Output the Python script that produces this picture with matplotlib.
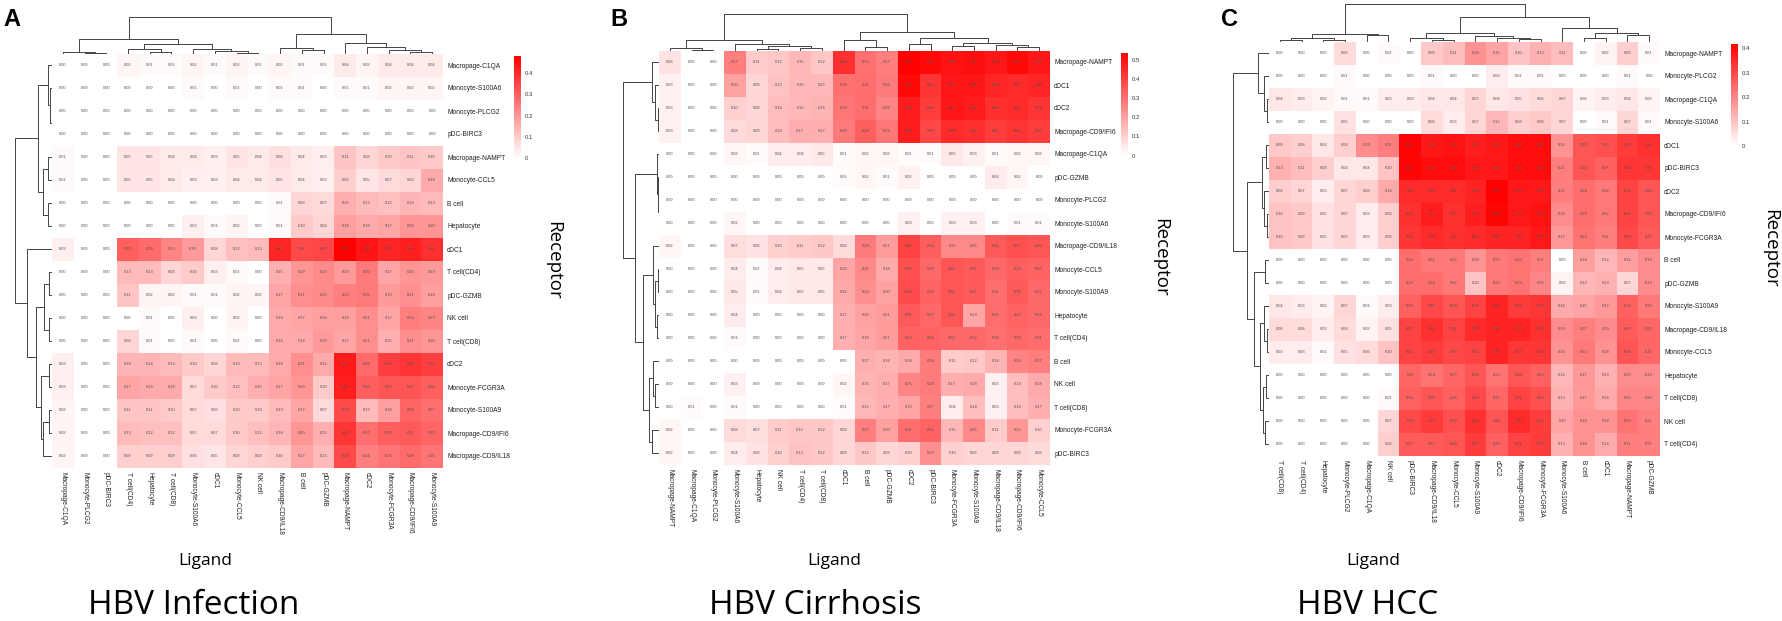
import numpy as np
import matplotlib.pyplot as plt
from matplotlib.colors import LinearSegmentedColormap

plt.rcParams['font.family'] = ['Liberation Sans', 'DejaVu Sans']

# ---------------- panel A : HBV Infection ----------------
a_rows = ['Macropage-C1QA', 'Monocyte-S100A6', 'Monocyte-PLCG2', 'pDC-BIRC3',
          'Macropage-NAMPT', 'Monocyte-CCL5', 'B cell', 'Hepatocyte', 'cDC1',
          'T cell(CD4)', 'pDC-GZMB', 'NK cell', 'T cell(CD8)', 'cDC2',
          'Monocyte-FCGR3A', 'Monocyte-S100A9', 'Macropage-CD9/IFI6',
          'Macropage-CD9/IL18']
a_cols = ['Macropage-C1QA', 'Monocyte-PLCG2', 'pDC-BIRC3', 'T cell(CD4)',
          'Hepatocyte', 'T cell(CD8)', 'Monocyte-S100A6', 'cDC1',
          'Monocyte-CCL5', 'NK cell', 'Macropage-CD9/IL18', 'B cell',
          'pDC-GZMB', 'Macropage-NAMPT', 'cDC2', 'Monocyte-FCGR3A',
          'Macropage-CD9/IFI6', 'Monocyte-S100A9']
a_vals = [
    [0.00, 0.00, 0.00, 0.02, 0.01, 0.01, 0.02, 0.01, 0.02, 0.01, 0.02, 0.01, 0.01, 0.04, 0.02, 0.04, 0.04, 0.04],
    [0.00, 0.00, 0.00, 0.00, 0.00, 0.00, 0.01, 0.00, 0.01, 0.00, 0.01, 0.01, 0.00, 0.01, 0.01, 0.02, 0.02, 0.02],
    [0.00, 0.00, 0.00, 0.00, 0.00, 0.00, 0.00, 0.00, 0.00, 0.00, 0.00, 0.00, 0.00, 0.00, 0.00, 0.00, 0.00, 0.00],
    [0.00, 0.00, 0.00, 0.00, 0.00, 0.00, 0.00, 0.00, 0.00, 0.00, 0.00, 0.00, 0.00, 0.00, 0.00, 0.00, 0.00, 0.00],
    [0.01, 0.00, 0.00, 0.05, 0.05, 0.04, 0.04, 0.03, 0.05, 0.04, 0.06, 0.04, 0.03, 0.11, 0.08, 0.10, 0.11, 0.10],
    [0.01, 0.00, 0.00, 0.05, 0.05, 0.04, 0.03, 0.03, 0.04, 0.04, 0.05, 0.04, 0.03, 0.09, 0.05, 0.07, 0.08, 0.16],
    [0.00, 0.00, 0.00, 0.00, 0.00, 0.00, 0.00, 0.00, 0.00, 0.00, 0.01, 0.08, 0.07, 0.15, 0.13, 0.12, 0.14, 0.13],
    [0.00, 0.00, 0.00, 0.00, 0.00, 0.00, 0.03, 0.01, 0.02, 0.00, 0.01, 0.10, 0.08, 0.18, 0.16, 0.17, 0.20, 0.20],
    [0.03, 0.00, 0.00, 0.30, 0.28, 0.23, 0.19, 0.08, 0.12, 0.13, 0.41, 0.34, 0.35, 0.48, 0.44, 0.41, 0.42, 0.39],
    [0.00, 0.00, 0.00, 0.13, 0.13, 0.08, 0.10, 0.03, 0.01, 0.00, 0.15, 0.20, 0.22, 0.19, 0.25, 0.17, 0.20, 0.19],
    [0.00, 0.00, 0.00, 0.11, 0.02, 0.02, 0.01, 0.01, 0.02, 0.02, 0.17, 0.21, 0.22, 0.24, 0.25, 0.19, 0.21, 0.18],
    [0.00, 0.00, 0.00, 0.00, 0.01, 0.00, 0.03, 0.00, 0.02, 0.00, 0.16, 0.17, 0.18, 0.18, 0.21, 0.17, 0.24, 0.23],
    [0.00, 0.00, 0.00, 0.08, 0.01, 0.00, 0.01, 0.00, 0.01, 0.00, 0.16, 0.16, 0.19, 0.17, 0.21, 0.15, 0.21, 0.20],
    [0.03, 0.00, 0.00, 0.14, 0.14, 0.13, 0.10, 0.08, 0.13, 0.13, 0.16, 0.21, 0.16, 0.43, 0.28, 0.36, 0.38, 0.36],
    [0.03, 0.00, 0.00, 0.17, 0.16, 0.16, 0.07, 0.10, 0.12, 0.15, 0.17, 0.20, 0.10, 0.42, 0.30, 0.32, 0.32, 0.30],
    [0.02, 0.00, 0.00, 0.11, 0.11, 0.10, 0.07, 0.06, 0.10, 0.10, 0.13, 0.17, 0.07, 0.34, 0.13, 0.18, 0.29, 0.27],
    [0.02, 0.00, 0.00, 0.13, 0.12, 0.12, 0.07, 0.07, 0.10, 0.12, 0.14, 0.20, 0.15, 0.38, 0.27, 0.30, 0.31, 0.29],
    [0.02, 0.00, 0.00, 0.09, 0.09, 0.09, 0.06, 0.05, 0.08, 0.09, 0.10, 0.17, 0.13, 0.34, 0.24, 0.26, 0.28, 0.26],
]
# dendrograms: [merge height, left, right], leaves = display index
a_col_tree = [37, [15, [2, 0, [0.3, 1, 2]], [10, [5, 3, [2, 4, 5]], [5, 6, [2.5, 7, [1, 8, 9]]]]],
              [20, [6, 10, [4, 11, 12]], [11, 13, [7, 14, [3.5, 15, [2, 16, 17]]]]]]
a_row_tree = [37, [14, [4, 0, [2, 1, [0.3, 2, 3]]], [9, [4, 4, 5], [4, 6, 7]]],
              [25, 8, [16, [8, [3, 9, 10], [3, 11, 12]], [11, [3, 13, 14], [9, [3, 15, 16], 17]]]]]

# ---------------- panel B : HBV Cirrhosis ----------------
b_rows = ['Macropage-NAMPT', 'cDC1', 'cDC2', 'Macropage-CD9/IFI6', 'Macropage-C1QA',
          'pDC-GZMB', 'Monocyte-PLCG2', 'Monocyte-S100A6', 'Macropage-CD9/IL18',
          'Monocyte-CCL5', 'Monocyte-S100A9', 'Hepatocyte', 'T cell(CD4)', 'B cell',
          'NK cell', 'T cell(CD8)', 'Monocyte-FCGR3A', 'pDC-BIRC3']
b_cols = ['Macropage-NAMPT', 'Macropage-C1QA', 'Monocyte-PLCG2', 'Monocyte-S100A6',
          'Hepatocyte', 'NK cell', 'T cell(CD4)', 'T cell(CD8)', 'cDC1', 'B cell',
          'pDC-GZMB', 'cDC2', 'pDC-BIRC3', 'Monocyte-FCGR3A', 'Monocyte-S100A9',
          'Macropage-CD9/IL18', 'Macropage-CD9/IFI6', 'Monocyte-CCL5']
b_vals = [
    [0.06, 0.00, 0.00, 0.27, 0.11, 0.12, 0.15, 0.12, 0.44, 0.30, 0.27, 0.54, 0.52, 0.50, 0.51, 0.49, 0.52, 0.49],
    [0.03, 0.00, 0.00, 0.20, 0.09, 0.13, 0.15, 0.15, 0.30, 0.31, 0.28, 0.52, 0.43, 0.49, 0.49, 0.46, 0.45, 0.46],
    [0.03, 0.00, 0.00, 0.10, 0.09, 0.14, 0.15, 0.16, 0.29, 0.31, 0.26, 0.48, 0.41, 0.49, 0.48, 0.44, 0.45, 0.43],
    [0.03, 0.00, 0.00, 0.08, 0.09, 0.14, 0.17, 0.17, 0.28, 0.34, 0.29, 0.48, 0.39, 0.45, 0.44, 0.41, 0.43, 0.41],
    [0.00, 0.00, 0.00, 0.02, 0.01, 0.04, 0.04, 0.05, 0.01, 0.02, 0.02, 0.01, 0.01, 0.05, 0.03, 0.01, 0.02, 0.02],
    [0.00, 0.00, 0.00, 0.00, 0.00, 0.00, 0.00, 0.00, 0.01, 0.02, 0.01, 0.03, 0.00, 0.00, 0.00, 0.04, 0.02, 0.00],
    [0.00, 0.00, 0.00, 0.00, 0.00, 0.00, 0.00, 0.00, 0.00, 0.00, 0.00, 0.00, 0.00, 0.00, 0.00, 0.00, 0.00, 0.00],
    [0.00, 0.00, 0.00, 0.02, 0.00, 0.00, 0.00, 0.00, 0.00, 0.00, 0.00, 0.03, 0.00, 0.03, 0.03, 0.00, 0.01, 0.01],
    [0.02, 0.00, 0.00, 0.07, 0.06, 0.10, 0.11, 0.12, 0.08, 0.28, 0.21, 0.40, 0.34, 0.25, 0.25, 0.35, 0.37, 0.36],
    [0.00, 0.00, 0.00, 0.04, 0.01, 0.04, 0.05, 0.05, 0.19, 0.25, 0.18, 0.37, 0.32, 0.36, 0.35, 0.32, 0.34, 0.33],
    [0.00, 0.00, 0.00, 0.05, 0.01, 0.04, 0.05, 0.05, 0.18, 0.24, 0.20, 0.38, 0.33, 0.36, 0.35, 0.31, 0.35, 0.32],
    [0.00, 0.00, 0.00, 0.04, 0.00, 0.00, 0.00, 0.00, 0.17, 0.20, 0.21, 0.35, 0.32, 0.36, 0.19, 0.31, 0.33, 0.32],
    [0.00, 0.00, 0.00, 0.01, 0.00, 0.00, 0.00, 0.00, 0.17, 0.19, 0.21, 0.33, 0.33, 0.32, 0.32, 0.30, 0.32, 0.31],
    [0.00, 0.00, 0.00, 0.00, 0.00, 0.00, 0.00, 0.00, 0.00, 0.17, 0.16, 0.18, 0.28, 0.11, 0.12, 0.16, 0.26, 0.27],
    [0.00, 0.00, 0.00, 0.03, 0.00, 0.00, 0.00, 0.00, 0.02, 0.16, 0.17, 0.26, 0.28, 0.17, 0.18, 0.03, 0.14, 0.18],
    [0.00, 0.01, 0.00, 0.01, 0.00, 0.00, 0.00, 0.00, 0.01, 0.15, 0.17, 0.19, 0.27, 0.04, 0.14, 0.03, 0.14, 0.17],
    [0.02, 0.00, 0.00, 0.08, 0.07, 0.11, 0.12, 0.12, 0.09, 0.27, 0.20, 0.31, 0.33, 0.15, 0.25, 0.11, 0.22, 0.10],
    [0.02, 0.00, 0.00, 0.04, 0.06, 0.10, 0.13, 0.12, 0.09, 0.12, 0.09, 0.10, 0.24, 0.10, 0.09, 0.09, 0.09, 0.08],
]
b_col_tree = [36.5, [10.5, [2.5, 0, [0.3, 1, 2]], [7, 3, [5, [2, 4, 5], [3, 6, 7]]]],
              [19, [10.5, 8, [4, 9, 10]], [12.5, [6.5, 11, 12], [8, [5, 13, 14], [6, 15, [3.5, 16, 17]]]]]]
b_row_tree = [36, [7, 0, [4, 1, [1, 2, 3]]],
              [24, [2, 4, [1.5, 5, [0.5, 6, 7]]],
               [16, [6, 8, [4, [1, 9, 10], [2, 11, 12]]], [10, [6, 13, [4, 14, 15]], [7, 16, 17]]]]]

# ---------------- panel C : HBV HCC ----------------
c_rows = ['Macropage-NAMPT', 'Monocyte-PLCG2', 'Macropage-C1QA', 'Monocyte-S100A6',
          'cDC1', 'pDC-BIRC3', 'cDC2', 'Macropage-CD9/IFI6', 'Monocyte-FCGR3A',
          'B cell', 'pDC-GZMB', 'Monocyte-S100A9', 'Macropage-CD9/IL18',
          'Monocyte-CCL5', 'Hepatocyte', 'T cell(CD8)', 'NK cell', 'T cell(CD4)']
c_cols = ['T cell(CD8)', 'T cell(CD4)', 'Hepatocyte', 'Monocyte-PLCG2',
          'Macropage-C1QA', 'NK cell', 'pDC-BIRC3', 'Macropage-CD9/IL18',
          'Monocyte-CCL5', 'Monocyte-S100A9', 'cDC2', 'Macropage-CD9/IFI6',
          'Monocyte-FCGR3A', 'Monocyte-S100A6', 'B cell', 'cDC1',
          'Macropage-NAMPT', 'pDC-GZMB']
c_vals = [
    [0.00, 0.00, 0.00, 0.06, 0.00, 0.01, 0.00, 0.09, 0.11, 0.18, 0.15, 0.10, 0.13, 0.11, 0.00, 0.02, 0.08, 0.01],
    [0.00, 0.00, 0.00, 0.01, 0.00, 0.00, 0.00, 0.01, 0.00, 0.00, 0.03, 0.01, 0.01, 0.00, 0.00, 0.00, 0.01, 0.00],
    [0.04, 0.03, 0.02, 0.01, 0.01, 0.03, 0.03, 0.04, 0.04, 0.07, 0.04, 0.05, 0.06, 0.07, 0.02, 0.03, 0.04, 0.02],
    [0.00, 0.00, 0.00, 0.05, 0.00, 0.00, 0.00, 0.06, 0.03, 0.07, 0.12, 0.08, 0.09, 0.07, 0.00, 0.01, 0.07, 0.01],
    [0.09, 0.08, 0.04, 0.08, 0.19, 0.21, 0.41, 0.38, 0.39, 0.37, 0.38, 0.40, 0.40, 0.18, 0.28, 0.29, 0.32, 0.34],
    [0.13, 0.11, 0.08, 0.04, 0.04, 0.10, 0.41, 0.40, 0.40, 0.38, 0.38, 0.40, 0.40, 0.21, 0.28, 0.26, 0.33, 0.33],
    [0.08, 0.07, 0.03, 0.07, 0.08, 0.14, 0.35, 0.35, 0.35, 0.36, 0.42, 0.38, 0.38, 0.21, 0.24, 0.22, 0.31, 0.28],
    [0.10, 0.09, 0.05, 0.07, 0.03, 0.08, 0.34, 0.37, 0.34, 0.37, 0.41, 0.38, 0.39, 0.19, 0.24, 0.22, 0.31, 0.28],
    [0.10, 0.09, 0.05, 0.07, 0.03, 0.08, 0.33, 0.35, 0.34, 0.35, 0.36, 0.36, 0.38, 0.17, 0.23, 0.21, 0.30, 0.27],
    [0.00, 0.00, 0.00, 0.00, 0.00, 0.00, 0.24, 0.22, 0.22, 0.18, 0.22, 0.23, 0.21, 0.00, 0.16, 0.12, 0.16, 0.19],
    [0.00, 0.00, 0.00, 0.00, 0.00, 0.00, 0.24, 0.24, 0.22, 0.10, 0.22, 0.23, 0.20, 0.02, 0.12, 0.13, 0.07, 0.19],
    [0.04, 0.03, 0.02, 0.07, 0.01, 0.03, 0.26, 0.30, 0.28, 0.31, 0.36, 0.32, 0.33, 0.14, 0.15, 0.17, 0.26, 0.22],
    [0.06, 0.06, 0.03, 0.06, 0.02, 0.05, 0.31, 0.34, 0.31, 0.35, 0.36, 0.36, 0.34, 0.19, 0.21, 0.19, 0.27, 0.25],
    [0.03, 0.03, 0.01, 0.05, 0.06, 0.10, 0.31, 0.32, 0.30, 0.31, 0.36, 0.33, 0.33, 0.18, 0.22, 0.18, 0.28, 0.25],
    [0.00, 0.00, 0.00, 0.00, 0.00, 0.00, 0.25, 0.23, 0.25, 0.28, 0.23, 0.28, 0.26, 0.12, 0.17, 0.13, 0.19, 0.19],
    [0.00, 0.00, 0.00, 0.00, 0.00, 0.01, 0.26, 0.28, 0.26, 0.30, 0.25, 0.31, 0.29, 0.13, 0.17, 0.14, 0.20, 0.20],
    [0.00, 0.00, 0.00, 0.00, 0.00, 0.07, 0.30, 0.32, 0.29, 0.34, 0.28, 0.35, 0.32, 0.15, 0.18, 0.18, 0.23, 0.21],
    [0.00, 0.00, 0.00, 0.00, 0.00, 0.08, 0.27, 0.27, 0.28, 0.32, 0.26, 0.31, 0.32, 0.13, 0.18, 0.14, 0.21, 0.21],
]
c_col_tree = [38, [7.5, [3.5, [2, 0, 1], [2, 2, 3]], [6.5, 4, 5]],
              [25, [8.5, [4, 6, [2, 7, 8]], [5.5, 9, [4, 10, [2.5, 11, 12]]]],
               [13.5, 13, [9, [3.5, 14, 15], [6.5, 16, 17]]]]]
c_row_tree = [36, [11, 0, [5, 1, [2, 2, 3]]],
              [22, [7, [3, 4, 5], [5, 6, [2, 7, 8]]],
               [15, [4, 9, 10], [9, [5, 11, [2, 12, 13]], [6, [3, 14, 15], [4, 16, 17]]]]]]

# ---------------- figure ----------------
W, H = 1782, 621
fig = plt.figure(figsize=(W / 100, H / 100), dpi=100)
cmap = LinearSegmentedColormap.from_list('wr', ['#FFFFFF', '#FF0000'])
line_col = '#444444'
big_font = ['Open Sans', 'DejaVu Sans']


def box(x, y, w, h):
    # pixel box (top-left origin) -> figure axes
    return fig.add_axes([x / W, 1 - (y + h) / H, w / W, h / H])


def tree_lines(node):
    if isinstance(node, int):
        return node + 0.5, 0.0, []
    h, l, r = node
    cl, hl, sl = tree_lines(l)
    cr, hr, sr = tree_lines(r)
    seg = [(cl, hl), (cl, h), (cr, h), (cr, hr)]
    return (cl + cr) / 2, h, sl + sr + [seg]


def panel(vals, rows, cols, row_tree, col_tree, hx, hy, letter, title, lig_x, title_x):
    vals = np.array(vals)
    n_r, n_c = vals.shape
    hw, hh = 391, 414
    vmax = vals.max()

    ax = box(hx, hy, hw, hh)
    ax.pcolormesh(np.arange(n_c + 1), np.arange(n_r + 1), vals, cmap=cmap,
                  vmin=0, vmax=vmax, shading='flat')
    ax.set_xlim(0, n_c)
    ax.set_ylim(n_r, 0)
    for i in range(n_r):
        for j in range(n_c):
            ax.text(j + 0.5, i + 0.5, f'{vals[i, j]:.2f}', ha='center', va='center',
                    fontsize=2.9, color='#505050')
    for s in ax.spines.values():
        s.set_visible(False)
    ax.set_xticks(np.arange(n_c) + 0.5)
    ax.set_xticklabels(cols, rotation=270, fontsize=4.8, color='#222222')
    ax.set_yticks(np.arange(n_r) + 0.5)
    ax.set_yticklabels(rows, fontsize=4.8, color='#222222')
    ax.yaxis.tick_right()
    ax.tick_params(length=0, pad=3)

    # column dendrogram
    axc = box(hx, hy - 40, hw, 40)
    for seg in tree_lines(col_tree)[2]:
        axc.plot([p[0] for p in seg], [p[1] for p in seg], color=line_col, lw=0.7)
    axc.set_xlim(0, n_c)
    axc.set_ylim(0, 40)
    axc.axis('off')

    # row dendrogram
    axr = box(hx - 40, hy, 40, hh)
    for seg in tree_lines(row_tree)[2]:
        axr.plot([p[1] for p in seg], [p[0] for p in seg], color=line_col, lw=0.7)
    axr.set_xlim(40, 0)
    axr.set_ylim(n_r, 0)
    axr.axis('off')

    # colour legend
    axl = box(hx + hw + 71, hy + 2, 7, 103)
    grad = np.linspace(0, vmax, 200).reshape(-1, 1)
    axl.imshow(grad, cmap=cmap, vmin=0, vmax=vmax, aspect='auto',
               origin='lower', extent=(0, 1, 0, vmax))
    axl.set_xticks([])
    ticks = np.arange(0, vmax + 1e-9, 0.1)
    axl.set_yticks(ticks)
    axl.set_yticklabels(['0'] + [f'{t:.1f}' for t in ticks[1:]], fontsize=4.3,
                        color='#333333')
    axl.yaxis.tick_right()
    axl.tick_params(length=0, pad=3)
    for s in axl.spines.values():
        s.set_visible(False)

    fig.text((hx + hw + 110) / W, 1 - (hy + hh / 2) / H, 'Receptor', rotation=270,
             ha='center', va='center', fontsize=13.5, family=big_font)
    fig.text(lig_x / W, 1 - 561 / H, 'Ligand', ha='center', va='center',
             fontsize=12.5, family=big_font)
    fig.text(title_x / W, 1 - 605 / H, title, ha='center', va='center',
             fontsize=24, family=big_font)
    fig.text((hx - 40) / W, 1 - 19 / H, letter, ha='center', va='center',
             fontsize=17, fontweight='bold')


panel(a_vals, a_rows, a_cols, a_row_tree, a_col_tree, 52, 53.5, 'A',
      'HBV Infection', 205, 194)
panel(b_vals, b_rows, b_cols, b_row_tree, b_col_tree, 659, 50.5, 'B',
      'HBV Cirrhosis', 834, 815)
panel(c_vals, c_rows, c_cols, c_row_tree, c_col_tree, 1269, 41.5, 'C',
      'HBV HCC', 1373, 1368)

fig.savefig('out.png', dpi=100)
